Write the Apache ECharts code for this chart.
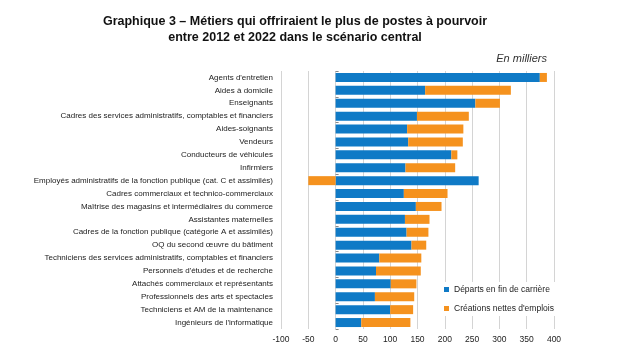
<!DOCTYPE html>
<html><head><meta charset="utf-8">
<script src="https://cdn.jsdelivr.net/npm/echarts@6/dist/echarts.min.js"></script>
<style>html,body{margin:0;padding:0;background:#fff}#c{width:632px;height:345px}</style>
</head><body><div id="c"></div>
<script>
const categories = [
  "Agents d'entretien",
  "Aides à domicile",
  "Enseignants",
  "Cadres des services administratifs, comptables et financiers",
  "Aides-soignants",
  "Vendeurs",
  "Conducteurs de véhicules",
  "Infirmiers",
  "Employés administratifs de la fonction publique (cat. C et assimilés)",
  "Cadres commerciaux et technico-commerciaux",
  "Maîtrise des magasins et intermédiaires du commerce",
  "Assistantes maternelles",
  "Cadres de la fonction publique (catégorie A et assimilés)",
  "OQ du second œuvre du bâtiment",
  "Techniciens des services administratifs, comptables et financiers",
  "Personnels d'études et de recherche",
  "Attachés commerciaux et représentants",
  "Professionnels des arts et spectacles",
  "Techniciens et AM de la maintenance",
  "Ingénieurs de l'informatique"
];
const departs = [374, 164, 256, 149, 131, 133, 212, 128, 262, 125, 147, 127, 130, 139, 80, 74, 101, 72, 100, 47];
const creations = [13, 157, 45, 95, 103, 100, 11, 91, -50, 80, 47, 45, 40, 27, 77, 82, 47, 72, 42, 90];
const seriesNames = ["Départs en fin de carrière", "Créations nettes d'emplois"];
const xMin = -100, xMax = 400, xStep = 50;

const chart = echarts.init(document.getElementById('c'), null, {renderer: 'canvas'});
const font = '"Liberation Sans", Arial, sans-serif';
chart.setOption({
  animation: false,
  backgroundColor: '#fff',
  title: [{
    text: 'Graphique 3 – Métiers qui offriraient le plus de postes à pourvoir\nentre 2012 et 2022 dans le scénario central',
    left: 290, top: 9, textAlign: 'center',
    textStyle: {fontFamily: font, fontSize: 12.5, fontWeight: 'bold', color: '#111', lineHeight: 16}
  }, {
    text: 'En milliers',
    right: 80, top: 48,
    textStyle: {fontFamily: font, fontSize: 11, fontStyle: 'italic', fontWeight: 'normal', color: '#333'}
  }],
  legend: {
    orient: 'vertical',
    left: 442, top: 282,
    itemWidth: 5, itemHeight: 5, itemGap: 10,
    icon: 'rect',
    backgroundColor: '#fff',
    padding: [3, 4, 3, 2],
    textStyle: {fontFamily: font, fontSize: 8.5, color: '#222'},
    data: seriesNames
  },
  grid: {left: 281, right: 78, top: 71, bottom: 16, containLabel: false},
  xAxis: {
    type: 'value', min: xMin, max: xMax, interval: xStep,
    axisLine: {show: false}, axisTick: {show: false},
    axisLabel: {fontFamily: font, fontSize: 8.5, color: '#222', margin: 6},
    splitLine: {show: true, lineStyle: {color: '#d4d4d4', width: 1}}
  },
  yAxis: [{
    type: 'category', inverse: true, data: categories,
    position: 'left',
    axisLine: {show: false, onZero: false}, axisTick: {show: false},
    axisLabel: {fontFamily: font, fontSize: 8, color: '#222', margin: 8}
  }, {
    type: 'category', inverse: true, data: categories,
    axisLine: {show: true, onZero: true, lineStyle: {color: '#888', opacity: 0}},
    axisTick: {show: true, length: 3, lineStyle: {color: '#888'}},
    axisLabel: {show: false}
  }],
  series: [{
    name: seriesNames[0], type: 'bar', stack: 'tot', yAxisIndex: 0,
    data: departs, barWidth: 9,
    itemStyle: {color: '#0f7ac6'}
  }, {
    name: seriesNames[1], type: 'bar', stack: 'tot', yAxisIndex: 0,
    data: creations, barWidth: 9,
    itemStyle: {color: '#f5921e'}
  }]
});
</script></body></html>
